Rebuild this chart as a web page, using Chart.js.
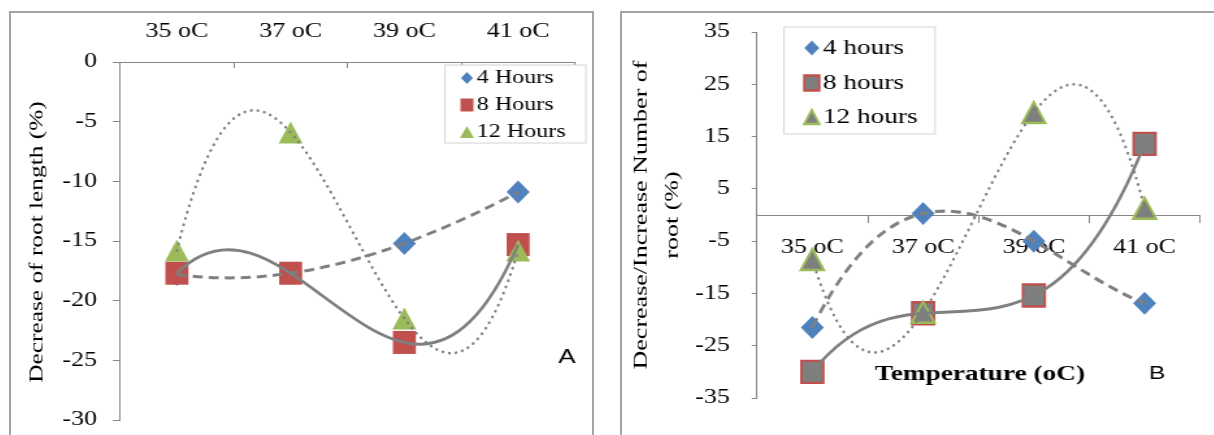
<!DOCTYPE html>
<html>
<head>
<meta charset="utf-8">
<script src="https://cdn.jsdelivr.net/npm/chart.js@4.4.0/dist/chart.umd.min.js"></script>
<style>
    body { margin: 0; background: #fff; width: 1214px; height: 435px; overflow: hidden; position: relative; }
    .panel { position: absolute; border: 2px solid #a3a3a3; box-sizing: border-box; }
    #panelA { left: 9px; top: 11px; width: 585px; height: 440px; }
    #panelB { left: 620px; top: 11px; width: 610px; height: 440px; }
    canvas { position: absolute; transform-origin: 0 0; transform: scaleX(1.3); }
</style>
</head>
<body>
<div class="panel" id="panelA"></div>
<div class="panel" id="panelB"></div>
<canvas id="rootLengthChart" width="448" height="422" style="left:10px;top:13px"></canvas>
<canvas id="rootNumberChart" width="455" height="422" style="left:622px;top:13px"></canvas>
<script>
// data
const temperatures = ['35 oC', '37 oC', '39 oC', '41 oC'];

const lengthSeries = ['4 Hours', '8 Hours', '12 Hours'];
const length4h = [-17.8, -17.7, -15.2, -10.9];
const length8h = [-17.7, -17.7, -23.5, -15.3];
const length12h = [-15.8, -5.9, -21.5, -15.8];
const lengthTicks = [-30, -25, -20, -15, -10, -5, 0];

const numberSeries = ['4 hours', '8 hours', '12 hours'];
const number4h = [-21.5, 0.3, -5.0, -16.9];
const number8h = [-30.0, -18.8, -15.4, 13.6];
const number12h = [-8.5, -18.6, 19.6, 1.3];
const numberTicks = [-35, -25, -15, -5, 5, 15, 25, 35];

Chart.defaults.font.family = '"Liberation Serif", "Times New Roman", serif';
Chart.defaults.color = '#000';
Chart.defaults.animation = false;

const axisGrey = '#868686';
const trendGrey = '#7f7f7f';
const stretch = 1.3; // the canvases are widened by css, the figure's font is wide

// marker shapes are drawn in screen pixels so they stay square after the css stretch
function drawMarker(ctx, m, x, y, w, h) {
    const hw = w / 2, hh = h / 2;
    ctx.save();
    ctx.translate(x, y);
    ctx.scale(1 / stretch, 1);
    ctx.beginPath();
    if (m.shape === 'diamond') {
        ctx.moveTo(0, -hh);
        ctx.lineTo(hw, 0);
        ctx.lineTo(0, hh);
        ctx.lineTo(-hw, 0);
    } else if (m.shape === 'square') {
        ctx.rect(-hw, -hh, w, h);
    } else {
        ctx.moveTo(0, -hh);
        ctx.lineTo(hw, hh);
        ctx.lineTo(-hw, hh);
    }
    ctx.closePath();
    ctx.fillStyle = m.fill;
    ctx.fill();
    if (m.lineWidth) {
        ctx.strokeStyle = m.stroke;
        ctx.lineWidth = m.lineWidth;
        ctx.lineJoin = 'miter';
        ctx.stroke();
    }
    ctx.restore();
}

// markers at the points chart.js placed, then excel style 3rd order trendlines
// (the cubic through the 4 points, written as one bezier segment)
const markersAndTrends = {
    id: 'markersAndTrends',
    afterDatasetsDraw(chart) {
        const ctx = chart.ctx;
        const xs = chart.scales.x;
        const ys = chart.scales.y;
        chart.data.datasets.forEach(function (ds, i) {
            chart.getDatasetMeta(i).data.forEach(function (pt) {
                drawMarker(ctx, ds.marker, pt.x, pt.y, ds.marker.w, ds.marker.h);
            });
        });
        chart.data.datasets.forEach(function (ds) {
            const v = ds.data;
            const c1 = (-5 * v[0] + 18 * v[1] - 9 * v[2] + 2 * v[3]) / 6;
            const c2 = (2 * v[0] - 9 * v[1] + 18 * v[2] - 5 * v[3]) / 6;
            const px = i => xs.getPixelForValue(i) * stretch;
            ctx.save();
            ctx.scale(1 / stretch, 1);
            ctx.strokeStyle = trendGrey;
            ctx.lineWidth = ds.trendWidth;
            ctx.lineCap = ds.trendCap || 'butt';
            ctx.setLineDash(ds.trendDash);
            ctx.beginPath();
            ctx.moveTo(px(0), ys.getPixelForValue(v[0]));
            ctx.bezierCurveTo(px(1), ys.getPixelForValue(c1), px(2), ys.getPixelForValue(c2), px(3), ys.getPixelForValue(v[3]));
            ctx.stroke();
            ctx.restore();
        });
    }
};

// boxed legend inside the plot + loose texts of the panel
const boxLegend = {
    id: 'boxLegend',
    afterDraw(chart, args, opts) {
        const ctx = chart.ctx;
        const b = opts.box;
        ctx.save();
        ctx.fillStyle = '#fff';
        ctx.strokeStyle = '#d4d4d4';
        ctx.lineWidth = 1;
        ctx.fillRect(b[0], b[1], b[2] - b[0], b[3] - b[1]);
        ctx.strokeRect(b[0], b[1], b[2] - b[0], b[3] - b[1]);
        chart.data.datasets.forEach(function (ds, i) {
            const y = opts.rowY[i];
            const s = opts.markerSize[i];
            drawMarker(ctx, ds.marker, opts.markerX, y, s[0], s[1]);
            ctx.fillStyle = '#000';
            ctx.font = opts.font;
            ctx.textAlign = 'left';
            ctx.textBaseline = 'middle';
            ctx.fillText(ds.label, opts.textX, y);
        });
        opts.notes.forEach(function (n) {
            ctx.fillStyle = '#000';
            ctx.font = n.font;
            ctx.textAlign = 'center';
            ctx.textBaseline = 'middle';
            ctx.fillText(n.text, n.x, n.y);
        });
        // rotated y title, long side stretched like the rest of the text
        const t = opts.yTitle;
        t.lines.forEach(function (line, i) {
            ctx.save();
            ctx.translate(t.x[i], t.y);
            ctx.rotate(-Math.PI / 2);
            ctx.scale(stretch, 1 / stretch);
            ctx.fillStyle = '#000';
            ctx.font = t.font;
            ctx.textAlign = 'center';
            ctx.textBaseline = 'middle';
            ctx.fillText(line, 0, 0);
            ctx.restore();
        });
        ctx.restore();
    }
};

function rootLengthChart() {
    var ctx = document.getElementById('rootLengthChart').getContext('2d');
    var chart = new Chart(ctx, {
        type: 'line',
        data: {
            labels: temperatures,
            datasets: [{
                label: lengthSeries[0],
                data: length4h,
                showLine: false,
                pointRadius: 0,
                marker: { shape: 'diamond', w: 23, h: 23, fill: '#4f81bd' },
                trendDash: [10, 6],
                trendWidth: 3
            }, {
                label: lengthSeries[1],
                data: length8h,
                showLine: false,
                pointRadius: 0,
                marker: { shape: 'square', w: 23, h: 23, fill: '#c0504d' },
                trendDash: [],
                trendWidth: 3
            }, {
                label: lengthSeries[2],
                data: length12h,
                showLine: false,
                pointRadius: 0,
                marker: { shape: 'triangle', w: 24, h: 22, fill: '#9bbb59' },
                trendDash: [0.1, 6.5],
                trendCap: 'round',
                trendWidth: 2.8
            }]
        },
        options: {
            responsive: false,
            events: [],
            layout: { padding: { left: 0, right: 13.4, top: 0, bottom: 15 } },
            plugins: {
                legend: { display: false },
                tooltip: { enabled: false },
                boxLegend: {
                    box: [334.6, 52, 443, 130],
                    rowY: [65, 92, 119],
                    markerX: 351.5,
                    textX: 359,
                    markerSize: [[12, 12], [13, 13], [14, 12]],
                    font: '18.5px "Liberation Serif"',
                    notes: [
                        { text: 'A', x: 428.5, y: 344, font: '20px "Liberation Sans"' }
                    ],
                    yTitle: {
                        lines: ['Decrease of root length (%)'],
                        x: [20.8],
                        y: 229,
                        font: '19.5px "Liberation Serif"'
                    }
                }
            },
            scales: {
                x: {
                    type: 'category',
                    position: 'top',
                    offset: true,
                    grid: { offset: true, drawOnChartArea: false, tickLength: -6, color: axisGrey },
                    border: { color: axisGrey },
                    ticks: { padding: 24, font: { size: 20 }, maxRotation: 0, autoSkip: false },
                    afterFit: function (scale) { scale.height = 49; }
                },
                y: {
                    min: lengthTicks[0],
                    max: lengthTicks[lengthTicks.length - 1],
                    afterBuildTicks: function (scale) { scale.ticks = lengthTicks.map(v => ({ value: v })); },
                    grid: { drawOnChartArea: false, tickLength: 5.4, color: axisGrey },
                    border: { color: axisGrey },
                    ticks: { padding: 12.3, font: { size: 20, lineHeight: 0.05 } },
                    afterFit: function (scale) { scale.width = 84.6; }
                }
            }
        },
        plugins: [markersAndTrends, boxLegend]
    });
}

function rootNumberChart() {
    var ctx = document.getElementById('rootNumberChart').getContext('2d');
    var chart = new Chart(ctx, {
        type: 'line',
        data: {
            labels: temperatures,
            datasets: [{
                label: numberSeries[0],
                data: number4h,
                showLine: false,
                pointRadius: 0,
                marker: { shape: 'diamond', w: 23, h: 23, fill: '#4f81bd' },
                trendDash: [10, 6],
                trendWidth: 3.2
            }, {
                label: numberSeries[1],
                data: number8h,
                showLine: false,
                pointRadius: 0,
                marker: { shape: 'square', w: 22, h: 22, fill: '#7f7f7f', stroke: '#c0504d', lineWidth: 2.4 },
                trendDash: [],
                trendWidth: 3
            }, {
                label: numberSeries[2],
                data: number12h,
                showLine: false,
                pointRadius: 0,
                marker: { shape: 'triangle', w: 23, h: 21, fill: '#7f7f7f', stroke: '#9bbb59', lineWidth: 2.4 },
                trendDash: [0.1, 6.5],
                trendCap: 'round',
                trendWidth: 2.8
            }]
        },
        options: {
            responsive: false,
            events: [],
            layout: { padding: { left: 0, right: 10.4, top: 19, bottom: 37 } },
            plugins: {
                legend: { display: false },
                tooltip: { enabled: false },
                boxLegend: {
                    box: [124.6, 14, 240.8, 121],
                    rowY: [35, 70, 104],
                    markerX: 146,
                    textX: 154.6,
                    markerSize: [[15, 15], [15, 15], [15, 14]],
                    font: '21px "Liberation Serif"',
                    notes: [
                        { text: 'Temperature (oC)', x: 275.4, y: 362, font: 'bold 21px "Liberation Serif"' },
                        { text: 'B', x: 411.5, y: 361, font: '19px "Liberation Sans"' }
                    ],
                    yTitle: {
                        lines: ['Decrease/Increase Number of', 'root (%)'],
                        x: [15.4, 38.5],
                        y: 202,
                        font: '20px "Liberation Serif"'
                    }
                }
            },
            scales: {
                x: {
                    type: 'category',
                    position: { y: 0 },
                    offset: true,
                    grid: { offset: true, drawOnChartArea: false, tickLength: 7, color: axisGrey },
                    border: { color: axisGrey },
                    ticks: { padding: 14, font: { size: 20 }, maxRotation: 0, autoSkip: false }
                },
                y: {
                    position: 'left',
                    min: numberTicks[0],
                    max: numberTicks[numberTicks.length - 1],
                    afterBuildTicks: function (scale) { scale.ticks = numberTicks.map(v => ({ value: v })); },
                    grid: { drawOnChartArea: false, tickLength: 4, color: axisGrey },
                    border: { color: axisGrey },
                    ticks: { padding: 16.8, font: { size: 20, lineHeight: 0.05 } },
                    afterFit: function (scale) { scale.width = 103.8; }
                }
            }
        },
        plugins: [markersAndTrends, boxLegend]
    });
}

window.onload = function () {
    rootLengthChart();
    rootNumberChart();
};
</script>
</body>
</html>
